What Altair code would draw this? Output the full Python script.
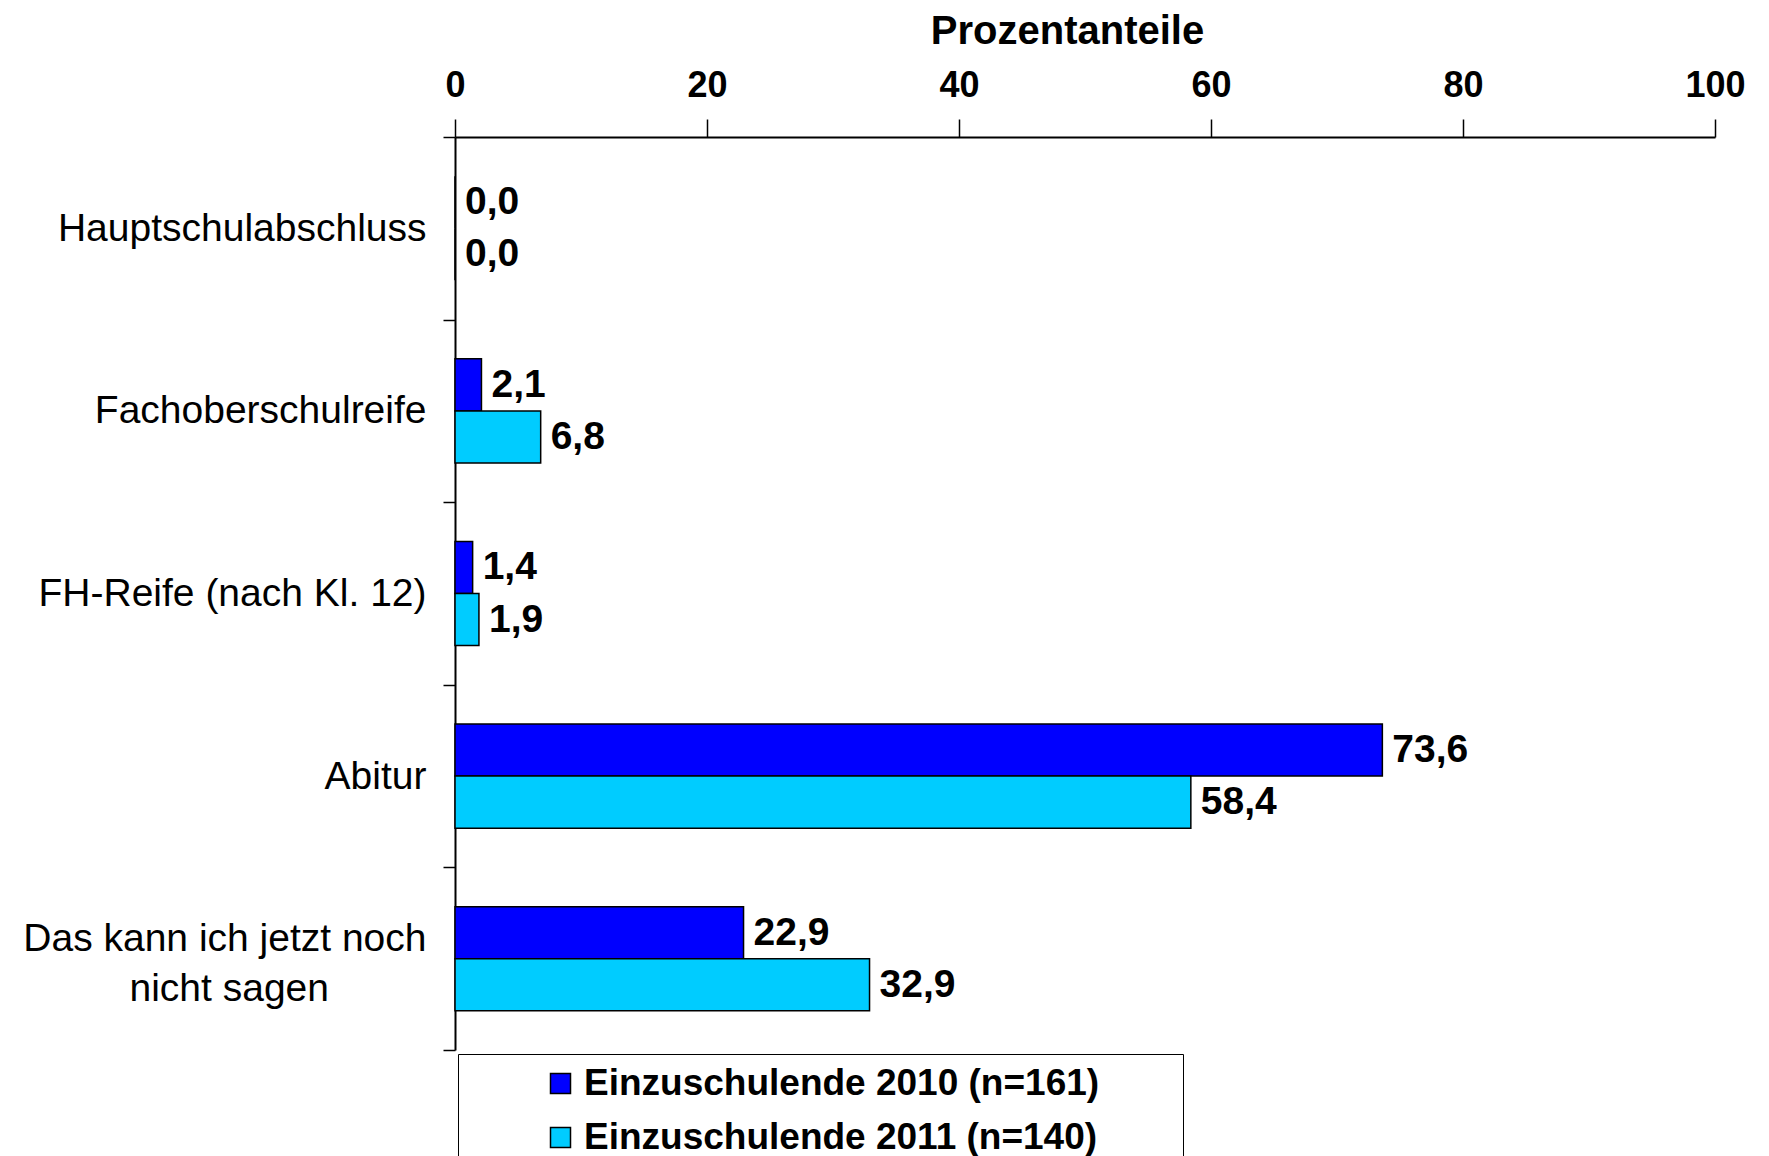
import altair as alt
import pandas as pd

categories = [
    "Hauptschulabschluss",
    "Fachoberschulreife",
    "FH-Reife (nach Kl. 12)",
    "Abitur",
    "Das kann ich jetzt noch\nnicht sagen",
]
series = ["Einzuschulende 2010 (n=161)", "Einzuschulende 2011 (n=140)"]
values_2010 = [0.0, 2.1, 1.4, 73.6, 22.9]
values_2011 = [0.0, 6.8, 1.9, 58.4, 32.9]
x_ticks = [0, 20, 40, 60, 80, 100]
colors = ["#0000FF", "#00CCFF"]

rows = []
for c, v in zip(categories, values_2010):
    rows.append({"category": c, "series": series[0], "value": v})
for c, v in zip(categories, values_2011):
    rows.append({"category": c, "series": series[1], "value": v})
df = pd.DataFrame(rows)

FONT = "Liberation Sans"
MULTI = "datum.value && indexof(datum.value, '\\n') >= 0"
# invisible right padding so the second line sits centred under the first
PAD = "\u00a0" * 9 + "\u200d"
LABEL_EXPR = (
    "datum.value ? (indexof(datum.value, '\\n') >= 0 ? "
    "[split(datum.value, '\\n')[0], split(datum.value, '\\n')[1] + '" + PAD + "'] "
    ": datum.value) : ''"
)
# invisible right padding inside the legend frame
LEGEND_PAD = "\u00a0" * 7 + "\u200d"

base = alt.Chart(df).transform_calculate(
    label="replace(format(datum.value, '.1f'), '.', ',')"
).encode(
    y=alt.Y(
        "category:N",
        sort=categories,
        scale=alt.Scale(paddingInner=0, paddingOuter=0),
        axis=alt.Axis(
            title=None,
            tickBand="extent",
            tickSize=12,
            tickWidth=1.5,
            tickColor="black",
            domainColor="black",
            domainWidth=2,
            labelFontSize=39,
            labelFont=FONT,
            labelColor="black",
            labelPadding=17,
            labelBaseline={"condition": {"test": MULTI, "value": "bottom"}, "value": "middle"},
            labelLineHeight=50,
            labelLimit=600,
            labelExpr=LABEL_EXPR,
        ),
    ),
    yOffset=alt.YOffset(
        "series:N", sort=series, scale=alt.Scale(paddingInner=0, paddingOuter=0.754)
    ),
)

bars = base.mark_bar(stroke="black", strokeWidth=1.5).encode(
    x=alt.X(
        "value:Q",
        scale=alt.Scale(domain=[0, 100], nice=False),
        axis=alt.Axis(
            orient="top",
            values=x_ticks,
            title="Prozentanteile",
            titleFontSize=40,
            titleFont=FONT,
            titleFontWeight="bold",
            titleColor="black",
            titlePadding=16,
            titleX=612,
            titleAlign="center",
            labelFontSize=36,
            labelFont=FONT,
            labelFontWeight="bold",
            labelColor="black",
            labelPadding=15,
            labelFlush=False,
            tickSize=18,
            tickWidth=1.5,
            tickColor="black",
            domainColor="black",
            domainWidth=2,
            grid=False,
        ),
    ),
    color=alt.Color(
        "series:N",
        sort=series,
        scale=alt.Scale(domain=series, range=colors),
        legend=alt.Legend(
            title=None,
            orient="none",
            legendX=3,
            legendY=917,
            strokeColor="black",
            fillColor="white",
            padding=11,
            symbolOffset=73,
            labelOffset=5,
            symbolType="square",
            symbolSize=400,
            symbolStrokeColor="black",
            symbolStrokeWidth=1.5,
            labelFontSize=37,
            labelFont=FONT,
            labelFontWeight="bold",
            labelColor="black",
            labelLimit=900,
            labelExpr="datum.label + '" + LEGEND_PAD + "'",
            rowPadding=16,
        ),
    ),
)

text = base.mark_text(
    align="left",
    baseline="middle",
    dx=10,
    fontSize=39,
    font=FONT,
    fontWeight="bold",
    color="black",
).encode(
    x=alt.X("value:Q"),
    text="label:N",
)

chart = (
    alt.layer(bars, text)
    .properties(
        width=1260,
        height=913,
        background="white",
        padding={"top": 3, "left": 14, "right": 5, "bottom": 5},
    )
    .configure_view(stroke=None, strokeWidth=0)
)

chart.save("out.html", embed_options={"renderer": "svg", "actions": False})
